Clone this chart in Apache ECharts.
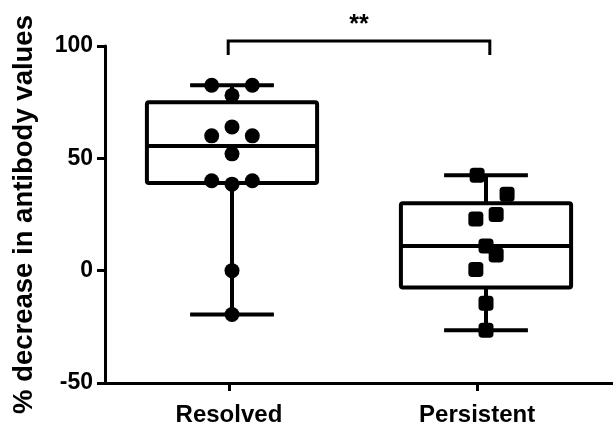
<!DOCTYPE html>
<html>
<head>
<meta charset="utf-8">
<script src="https://cdn.jsdelivr.net/npm/echarts@6/dist/echarts.min.js"></script>
<style>
  html, body { margin: 0; padding: 0; background: #fff; }
  #chart { width: 613px; height: 422px; }
</style>
</head>
<body>
<div id="chart"></div>
<script>
// groups and their points
const categories = ["Resolved", "Persistent"];
const tickPos = [0.988, 1.965];

const resolvedValues = [82.5, 82.5, 78, 64, 60, 60, 52, 40, 38.5, 40, 0, -19.5];
const resolvedJitter = [-0.08, 0.08, 0, 0, -0.08, 0.08, 0, -0.08, 0, 0.08, 0, 0];
const persistentValues = [42.5, 34, 25, 23, 11, 7, 0.5, -14.5, -26.5];
const persistentJitter = [-0.035, 0.083, 0.04, -0.04, 0, 0.04, -0.04, 0, 0];

// min, q1, median, q3, max
const resolvedBox = [-19.5, 39, 55.5, 75, 82.5];
const persistentBox = [-26.5, -7.5, 11, 30, 42.5];

const yTicks = [-50, 0, 50, 100];
const sigText = "**";

const font = "Liberation Sans";

let mychart = echarts.init(document.getElementById("chart"));

let boxData = [
  [1].concat(resolvedBox),
  [2].concat(persistentBox),
];
let resolvedPts = resolvedValues.map((v, i) => [1 + resolvedJitter[i], v]);
let persistentPts = persistentValues.map((v, i) => [2 + persistentJitter[i], v]);

// box with whiskers, drawn through the axes
function renderBox(params, api) {
  let x = api.value(0);
  let lw = 4;
  let halfBox = 0.335, halfCap = 0.165;
  let pMin = api.coord([x, api.value(1)]);
  let pQ1 = api.coord([x, api.value(2)]);
  let pMed = api.coord([x, api.value(3)]);
  let pQ3 = api.coord([x, api.value(4)]);
  let pMax = api.coord([x, api.value(5)]);
  let left = api.coord([x - halfBox, 0])[0];
  let right = api.coord([x + halfBox, 0])[0];
  let capL = api.coord([x - halfCap, 0])[0];
  let capR = api.coord([x + halfCap, 0])[0];
  let style = { stroke: "#000", lineWidth: lw, fill: null };
  return {
    type: "group",
    children: [
      { type: "line", shape: { x1: pMin[0], y1: pMin[1], x2: pQ1[0], y2: pQ1[1] }, style: style },
      { type: "line", shape: { x1: pQ3[0], y1: pQ3[1], x2: pMax[0], y2: pMax[1] }, style: style },
      { type: "line", shape: { x1: capL, y1: pMin[1], x2: capR, y2: pMin[1] }, style: style },
      { type: "line", shape: { x1: capL, y1: pMax[1], x2: capR, y2: pMax[1] }, style: style },
      { type: "rect", shape: { x: left, y: pQ3[1], width: right - left, height: pQ1[1] - pQ3[1], r: 2 }, style: { stroke: "#000", lineWidth: lw, fill: "#fff" } },
      { type: "line", shape: { x1: left, y1: pMed[1], x2: right, y2: pMed[1] }, style: style },
    ],
  };
}

// significance bracket between the two groups
function renderBracket(params, api) {
  let a = api.coord([api.value(0), api.value(2)]);
  let b = api.coord([api.value(1), api.value(2)]);
  let legEnd = api.coord([0, api.value(3)])[1];
  let mid = api.coord([(api.value(0) + api.value(1)) / 2, api.value(2)]);
  return {
    type: "group",
    children: [
      {
        type: "polyline",
        shape: { points: [[a[0], legEnd], a, b, [b[0], legEnd]] },
        style: { stroke: "#000", lineWidth: 3, fill: null },
      },
      {
        type: "text",
        x: mid[0],
        y: mid[1] - 3,
        style: { text: sigText, fill: "#000", font: "bold 25px " + font, align: "center", verticalAlign: "bottom" },
      },
    ],
  };
}

let option = {
  animation: false,
  backgroundColor: "#fff",
  grid: { left: 105, right: 0, top: 46, bottom: 39, outerBoundsMode: "none", containLabel: false },
  xAxis: {
    type: "value",
    min: 0.5,
    max: 2.5,
    splitLine: { show: false },
    axisLine: { show: true, onZero: false, lineStyle: { color: "#000", width: 3 } },
    axisTick: { show: true, customValues: tickPos, length: 8, lineStyle: { color: "#000", width: 3 } },
    axisLabel: {
      customValues: tickPos,
      margin: 20,
      color: "#000",
      fontFamily: font,
      fontWeight: "bold",
      fontSize: 24,
      formatter: (v) => (v < 1.5 ? categories[0] : categories[1]),
    },
  },
  yAxis: {
    type: "value",
    min: -50,
    max: 100,
    interval: 50,
    name: "% decrease in antibody values",
    nameLocation: "middle",
    nameGap: 67,
    nameTextStyle: { color: "#000", fontFamily: font, fontWeight: "bold", fontSize: 27.5 },
    splitLine: { show: false },
    axisLine: { show: true, onZero: false, lineStyle: { color: "#000", width: 3 } },
    axisTick: { show: true, length: 8, lineStyle: { color: "#000", width: 3 } },
    axisLabel: {
      margin: 12,
      color: "#000",
      fontFamily: font,
      fontWeight: "bold",
      fontSize: 23,
      formatter: (v) => (yTicks.indexOf(v) >= 0 ? String(v) : ""),
    },
  },
  series: [
    {
      type: "custom",
      renderItem: renderBox,
      clip: false,
      data: boxData,
      z: 2,
    },
    {
      type: "custom",
      renderItem: renderBracket,
      clip: false,
      data: [[0.985, 2.015, 102.2, 96]],
      z: 2,
    },
    {
      type: "scatter",
      symbol: "circle",
      symbolSize: 15,
      itemStyle: { color: "#000", opacity: 1 },
      data: resolvedPts,
      z: 3,
    },
    {
      type: "scatter",
      symbol: "roundRect",
      symbolSize: 15,
      itemStyle: { color: "#000", opacity: 1 },
      data: persistentPts,
      z: 3,
    },
  ],
};
mychart.setOption(option);
</script>
</body>
</html>
